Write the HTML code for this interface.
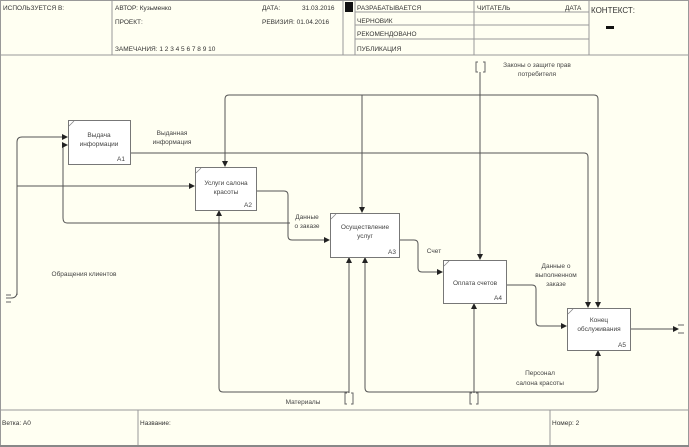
<!DOCTYPE html>
<html><head><meta charset="utf-8"><style>
html,body{margin:0;padding:0;background:#fffff2;}
svg{display:block;font-family:"Liberation Sans","DejaVu Sans",sans-serif;}
</style></head><body>
<svg width="689" height="447" viewBox="0 0 689 447" xmlns="http://www.w3.org/2000/svg">
<defs>
<marker id="a" markerWidth="6" markerHeight="6" refX="5" refY="3" orient="auto" markerUnits="userSpaceOnUse"><path d="M0,0 L6,3 L0,6 z" fill="#222"/></marker>
</defs>
<rect x="0" y="0" width="689" height="447" fill="#fffff2"/>
<!-- header -->
<g stroke="#999" stroke-width="1" fill="none">
<rect x="0.5" y="0.5" width="688" height="445"/>
<line x1="0" y1="55" x2="689" y2="55"/>
<line x1="112" y1="0" x2="112" y2="55"/>
<line x1="343" y1="0" x2="343" y2="55"/>
<line x1="355" y1="0" x2="355" y2="55"/>
<line x1="474" y1="0" x2="474" y2="55"/>
<line x1="589" y1="0" x2="589" y2="55"/>
<line x1="355" y1="12" x2="589" y2="12"/>
<line x1="355" y1="25" x2="589" y2="25"/>
<line x1="355" y1="39" x2="589" y2="39"/>
<line x1="0" y1="410" x2="689" y2="410"/>
<line x1="138" y1="410" x2="138" y2="447"/>
<line x1="550" y1="410" x2="550" y2="447"/>
</g>
<line x1="0" y1="446" x2="689" y2="446" stroke="#888" stroke-width="2"/>
<rect x="345" y="2" width="8" height="10" fill="#111"/>
<rect x="606" y="26" width="8" height="3" fill="#111"/>
<g font-size="6.5" fill="#333">
<text x="3" y="10">ИСПОЛЬЗУЕТСЯ В:</text>
<text x="115" y="10">АВТОР: Кузьменко</text>
<text x="115" y="24">ПРОЕКТ:</text>
<text x="115" y="51">ЗАМЕЧАНИЯ: 1 2 3 4 5 6 7 8 9 10</text>
<text x="262" y="10">ДАТА:</text>
<text x="302" y="10">31.03.2016</text>
<text x="262" y="24">РЕВИЗИЯ: 01.04.2016</text>
<text x="357" y="10">РАЗРАБАТЫВАЕТСЯ</text>
<text x="357" y="23">ЧЕРНОВИК</text>
<text x="357" y="36">РЕКОМЕНДОВАНО</text>
<text x="357" y="51">ПУБЛИКАЦИЯ</text>
<text x="477" y="10">ЧИТАТЕЛЬ</text>
<text x="565" y="10">ДАТА</text>
<text x="591" y="13" font-size="8">КОНТЕКСТ:</text>
<text x="2" y="425">Ветка: А0</text>
<text x="140" y="425">Название:</text>
<text x="552" y="425">Номер: 2</text>
</g>
<!-- connectors -->
<g stroke="#555" stroke-width="1" fill="none">
<!-- input clients -->
<path d="M17,295 L17,142 Q17,137 22,137 L67,137" marker-end="url(#a)"/>
<path d="M17,186 L194,186" marker-end="url(#a)"/>
<path d="M17,292 Q17,298 11,298"/>
<!-- feedback to A1 -->
<path d="M290,223 L67,223 Q63,223 63,218 L63,145 L67,145" marker-end="url(#a)"/>
<!-- A1 output -->
<path d="M130,153 L584,153 Q588,153 588,157 L588,307" marker-end="url(#a)"/>
<!-- A2 output -->
<path d="M256,191 L284,191 Q288,191 288,195 L288,236 Q288,240 292,240 L329,240" marker-end="url(#a)"/>
<!-- controls -->
<path d="M480,72 L480,259" marker-end="url(#a)"/>
<path d="M480,95 L229,95 Q225,95 225,99 L225,166" marker-end="url(#a)"/>
<path d="M362,95 L362,212" marker-end="url(#a)"/>
<path d="M480,95 L594,95 Q598,95 598,99 L598,307" marker-end="url(#a)"/>
<!-- A3 output -->
<path d="M400,240 L414,240 Q418,240 418,244 L418,268 Q418,272 422,272 L442,272" marker-end="url(#a)"/>
<!-- A4 output -->
<path d="M506,285 L532,285 Q536,285 536,289 L536,322 Q536,326 540,326 L566,326" marker-end="url(#a)"/>
<!-- A5 output -->
<path d="M630,329 L678,329" marker-end="url(#a)"/>
<!-- mechanisms -->
<path d="M349,393 L349,258" marker-end="url(#a)"/>
<path d="M349,392 L223,392 Q219,392 219,388 L219,211" marker-end="url(#a)"/>
<path d="M474,393 L474,304" marker-end="url(#a)"/>
<path d="M474,392 L369,392 Q365,392 365,388 L365,258" marker-end="url(#a)"/>
<path d="M474,392 L594,392 Q598,392 598,388 L598,351" marker-end="url(#a)"/>
</g>
<!-- tunnels -->
<g stroke="#666" stroke-width="1" fill="none">
<path d="M478,62 L476,62 L476,72 L478,72 M483,62 L485,62 L485,72 L483,72"/>
<path d="M347,393 L345,393 L345,404 L347,404 M351,393 L353,393 L353,404 L351,404"/>
<path d="M472,393 L470,393 L470,404 L472,404 M476,393 L478,393 L478,404 L476,404"/>
<path d="M11,295 L6,295 M11,298 L6,298 M11,302 L6,302"/>
<path d="M678,325 L684,325 M678,333 L684,333"/>
</g>
<!-- boxes -->
<g stroke="#777" stroke-width="1" fill="#fff">
<rect x="68.5" y="120.5" width="62" height="44"/>
<rect x="195.5" y="167.5" width="61" height="43"/>
<rect x="330.5" y="213.5" width="69" height="44"/>
<rect x="443.5" y="260.5" width="63" height="43"/>
<rect x="567.5" y="308.5" width="63" height="42"/>
</g>
<g stroke="#888" stroke-width="0.8">
<line x1="69" y1="126" x2="74" y2="121"/>
<line x1="196" y1="173" x2="201" y2="168"/>
<line x1="331" y1="219" x2="336" y2="214"/>
<line x1="444" y1="266" x2="449" y2="261"/>
<line x1="568" y1="314" x2="573" y2="309"/>
</g>
<g font-size="6.5" fill="#444" text-anchor="middle">
<text x="99" y="137">Выдача</text><text x="99" y="146">информации</text>
<text x="125" y="161" text-anchor="end">А1</text>
<text x="226" y="185">Услуги салона</text><text x="226" y="194">красоты</text>
<text x="252" y="207" text-anchor="end">А2</text>
<text x="365" y="229">Осуществление</text><text x="365" y="238">услуг</text>
<text x="396" y="254" text-anchor="end">А3</text>
<text x="475" y="285">Оплата счетов</text>
<text x="502" y="300" text-anchor="end">А4</text>
<text x="599" y="322">Конец</text><text x="599" y="331">обслуживания</text>
<text x="626" y="347" text-anchor="end">А5</text>
<text x="172" y="135">Выданная</text><text x="172" y="144">информация</text>
<text x="537" y="67">Законы о защите прав</text><text x="537" y="76">потребителя</text>
<text x="307" y="219">Данные</text><text x="307" y="228">о заказе</text>
<text x="434" y="253">Счет</text>
<text x="556" y="268">Данные о</text><text x="556" y="277">выполненном</text><text x="556" y="286">заказе</text>
<text x="84" y="276">Обращения клиентов</text>
<text x="303" y="404">Материалы</text>
<text x="540" y="375">Персонал</text><text x="540" y="385">салона красоты</text>
</g>
</svg>
</body></html>
